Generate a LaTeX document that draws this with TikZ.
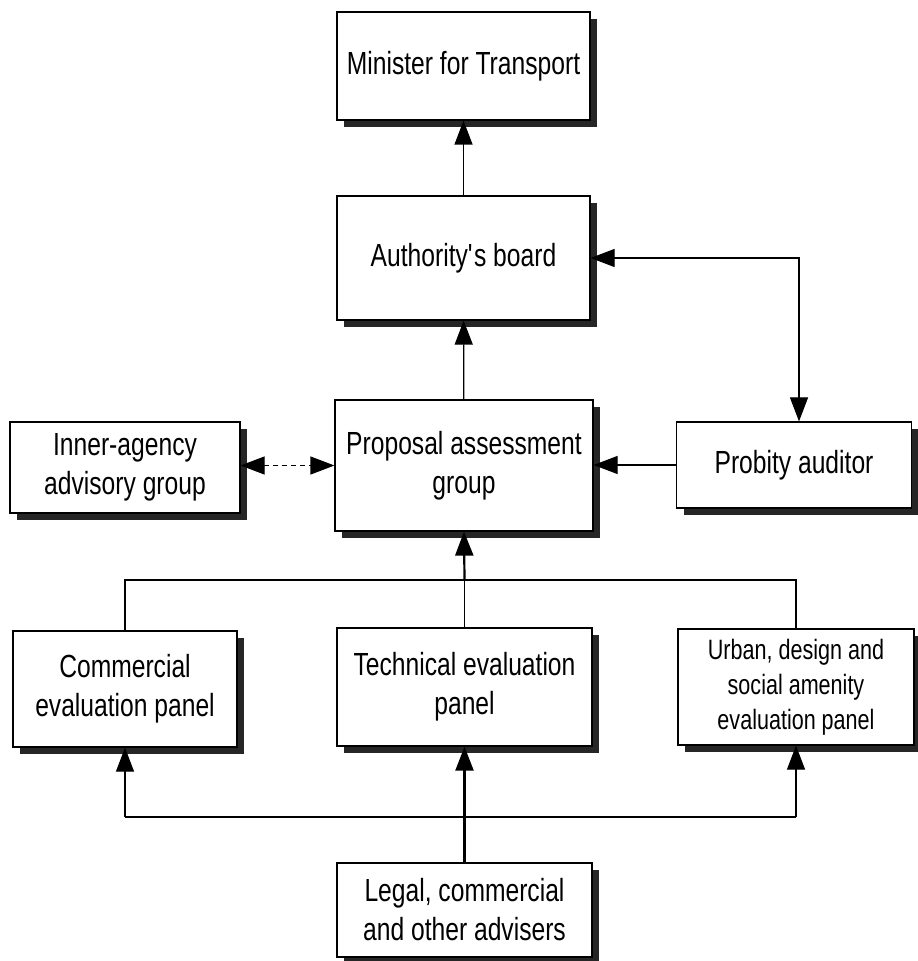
\documentclass[tikz,border=0pt]{standalone}
\usepackage{fontspec}
\setmainfont{Liberation Sans}[FakeStretch=0.77]
\usetikzlibrary{arrows.meta,shadows}

\begin{document}
\begin{tikzpicture}[x=0.5pt,y=-0.5pt,
    box/.style={draw,fill=white,line width=0.6pt,align=center,inner sep=2pt,
      font=\fontsize{16}{19.5}\selectfont,
      drop shadow={shadow xshift=3.5pt,shadow yshift=-3.5pt,fill=black!85,opacity=1}},
    tip/.tip={Triangle[length=12pt,width=9pt]},
    conn/.style={line width=0.6pt,-tip},
    trunk/.style={conn,line width=1.1pt}]
\useasboundingbox (0,0) rectangle (917,961);
\node[box,minimum width=126.5pt,minimum height=54pt] (minister) at (463.5,66) {Minister for Transport};
\node[box,minimum width=126.5pt,minimum height=62pt] (board) at (463.5,258) {Authority\textquotesingle s board};
\node[box,minimum width=129pt,minimum height=65.5pt] (pag) at (464,465.5) {Proposal assessment\\group};
\node[box,minimum width=115pt,minimum height=45.5pt] (inner) at (125,467.5) {Inner-agency\\advisory group};
\node[box,minimum width=117.5pt,minimum height=43pt] (probity) at (794,465) {Probity auditor};
\node[box,minimum width=112pt,minimum height=58pt] (comm) at (125,689) {Commercial\\evaluation panel};
\node[box,minimum width=127.5pt,minimum height=59pt] (tech) at (464.5,687) {Technical evaluation\\panel};
\node[box,minimum width=118pt,minimum height=58pt,font=\fontsize{14}{17.5}\selectfont] (urban) at (796,687) {Urban, design and\\social amenity\\evaluation panel};
\node[box,minimum width=127.5pt,minimum height=47pt] (legal) at (464.5,910) {Legal, commercial\\and other advisers};
\coordinate (barup) at (464.5,580);
\coordinate (barlow) at (464.5,817);
\draw[conn] (board) -- (minister);
\draw[conn] (pag) -- (board);
\draw[conn,tip-tip] (board.east) -| ([xshift=2.5pt]probity.north);
\draw[conn] (probity.west) -- (probity.west -| pag.east);
\draw[conn,dash pattern=on 2.5pt off 2pt,tip-tip] (inner.east |- pag.west) -- (pag.west);
\draw[line width=0.6pt] (comm.north) |- (barup) -| (urban.north);
\draw[line width=0.6pt] (tech.north) -- (barup);
\draw[trunk] (barup) -- (pag.south);
\draw[line width=0.6pt] (barlow -| comm.south) -- (barlow -| urban.south);
\draw[conn] (barlow -| comm.south) -- (comm.south);
\draw[conn] (barlow -| urban.south) -- (urban.south);
\draw[line width=1.1pt] (legal.north) -- (barlow);
\draw[trunk] (barlow) -- (tech.south);
\end{tikzpicture}
\end{document}
